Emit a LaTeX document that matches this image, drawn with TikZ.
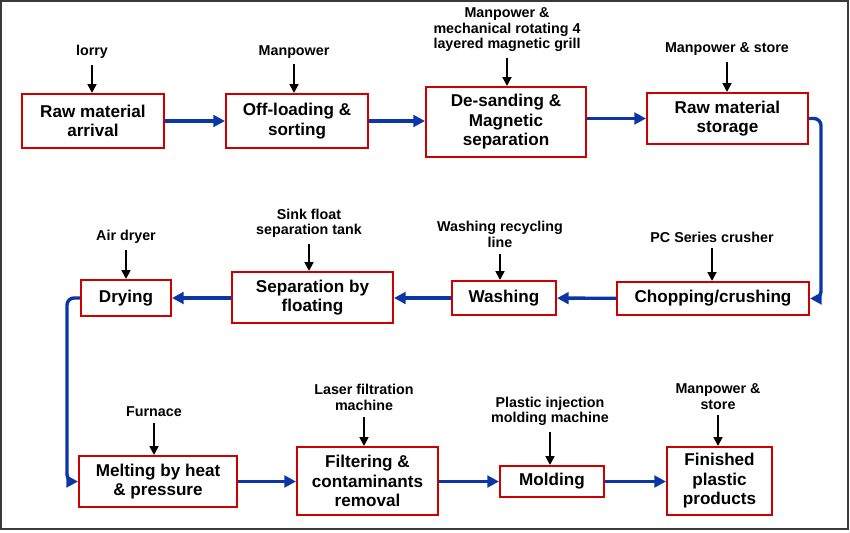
\documentclass[tikz,border=0pt]{standalone}
\usepackage{fontspec}
\setmainfont{Liberation Sans}
\usepackage{xcolor}
\usepackage{tikz}
\usetikzlibrary{arrows.meta}
\definecolor{BoxRed}{HTML}{CC0000}
\definecolor{FlowBlue}{HTML}{0A36A6}
\definecolor{FrameGray}{HTML}{3A3A3A}

\begin{document}
\begin{tikzpicture}[
  x=0.03cm, y=-0.03cm,
  stage/.style={rectangle, draw=BoxRed, line width=1.7pt, align=center, fill=white, inner sep=1pt, font=\fontsize{14.6}{16.6}\selectfont\bfseries},
  tool/.style={align=center, inner xsep=2pt, inner ysep=5pt, font=\fontsize{12.2}{13.2}\selectfont\bfseries},
  flow/.style={-{Triangle[length=10pt,width=10pt]}, line width=2.9pt, draw=FlowBlue, rounded corners=6pt},
  feed/.style={-{Triangle[length=7.5pt,width=7.5pt]}, line width=1.6pt, draw=black}
]
\useasboundingbox (0,0) rectangle (850,532);
\draw[FrameGray, line width=1pt] (1,1) rectangle (848,529);

\node[stage, minimum width=4.26cm, minimum height=1.62cm] (arrival) at (93,121) {Raw material\\arrival};
\node[stage, minimum width=4.26cm, minimum height=1.62cm] (offload) at (297,121) {Off-loading \&\\sorting};
\node[stage, minimum width=4.8cm, minimum height=2.1cm] (desand) at (506,122) {De-sanding \&\\Magnetic\\separation};
\node[stage, minimum width=4.83cm, minimum height=1.53cm] (storage) at (727.5,118.5) {Raw material\\storage};
\node[stage, minimum width=5.76cm, minimum height=0.99cm] (chop) at (713,298.5) {Chopping/crushing};
\node[stage, minimum width=3.12cm, minimum height=1.02cm] (wash) at (504,298) {Washing};
\node[stage, minimum width=4.83cm, minimum height=1.53cm] (float) at (312.5,297.5) {Separation by\\floating};
\node[stage, minimum width=2.7cm, minimum height=1.08cm] (dry) at (126,298) {Drying};
\node[stage, minimum width=4.74cm, minimum height=1.53cm] (melt) at (158,481.5) {Melting by heat\\\& pressure};
\node[stage, minimum width=4.23cm, minimum height=2.04cm] (filter) at (367.5,481) {Filtering \&\\contaminants\\removal};
\node[stage, minimum width=3.12cm, minimum height=0.93cm] (mold) at (552,481.5) {Molding};
\node[stage, minimum width=3.15cm, minimum height=2.04cm] (finish) at (719.5,481) {Finished\\plastic\\products};

\node[tool] (lorry) at (92,52) {lorry};
\node[tool] (crew) at (294,52) {Manpower};
\node[tool] (grill) at (507,30) {Manpower \&\\mechanical rotating 4\\layered magnetic grill};
\node[tool] (store) at (727,49) {Manpower \& store};
\node[tool] (crusher) at (712,237) {PC Series crusher};
\node[tool] (washline) at (500,234.5) {Washing recycling\\line};
\node[tool] (tank) at (309,223.5) {Sink float\\separation tank};
\node[tool] (dryer) at (126,237) {Air dryer};
\node[tool] (furnace) at (154,412) {Furnace};
\node[tool] (laser) at (364,397.5) {Laser filtration\\machine};
\node[tool] (press) at (550,411.5) {Plastic injection\\molding machine};
\node[tool] (depot) at (718,396.5) {Manpower \&\\store};

\draw[feed] (lorry.south) -- (lorry.south |- arrival.north);
\draw[feed] (crew.south) -- (crew.south |- offload.north);
\draw[feed] (grill.south) -- (grill.south |- desand.north);
\draw[feed] (store.south) -- (store.south |- storage.north);
\draw[feed] (crusher.south) -- (crusher.south |- chop.north);
\draw[feed] (washline.south) -- (washline.south |- wash.north);
\draw[feed] (tank.south) -- (tank.south |- float.north);
\draw[feed] (dryer.south) -- (dryer.south |- dry.north);
\draw[feed] (furnace.south) -- (furnace.south |- melt.north);
\draw[feed] (laser.south) -- (laser.south |- filter.north);
\draw[feed] (press.south) -- (press.south |- mold.north);
\draw[feed] (depot.south) -- (depot.south |- finish.north);

\draw[flow] (arrival) -- (offload);
\draw[flow] (offload) -- (desand.west |- offload);
\draw[flow] (desand.east |- storage) -- (storage);
\draw[flow] (storage.east) -- ++(12,0) |- (chop.east);
\draw[flow] (chop) -- (wash);
\draw[flow] (wash) -- (float.east |- wash);
\draw[flow] (float.west |- dry) -- (dry);
\draw[flow] (dry.west) -- ++(-13,0) |- (melt.west);
\draw[flow] (melt) -- (filter.west |- melt);
\draw[flow] (filter.east |- mold) -- (mold);
\draw[flow] (mold) -- (finish.west |- mold);
\end{tikzpicture}
\end{document}
